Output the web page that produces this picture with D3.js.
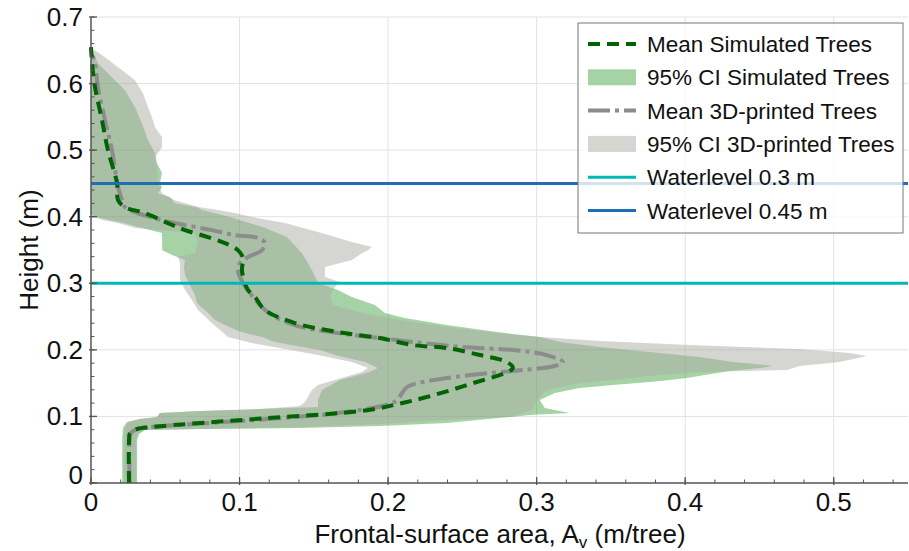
<!DOCTYPE html>
<html><head><meta charset="utf-8">
<script src="https://cdn.jsdelivr.net/npm/d3@7/dist/d3.min.js"></script>
<style>body{margin:0;background:#fff} text{font-family:"Liberation Sans",Arial,sans-serif}</style>
</head><body><svg id="c" width="909" height="551"></svg>
<script>
// ---- Data (height in m, frontal-surface area in m/tree) ----
const simMeanH = [0,.0646,.075,.0811,.0841,.0976,.1066,.1126,.1186,.1276,.1471,.1727,.1817,.1922,.2027,.2072,.2177,.2267,.2402,.2598,.2793,.2898,.3003,.3198,.3378,.3498,.3604,.3694,.3799,.3904,.4054,.4144,.4249,.4505,.5,.545,.5946,.6306,.6547];
const simMeanV = [.0256,.0256,.0262,.031,.041,.1191,.1756,.1945,.2066,.2234,.253,.284,.28,.2618,.2396,.2167,.1945,.1662,.1373,.1171,.1104,.1057,.1036,.1016,.1023,.0989,.0902,.0787,.0633,.0518,.0363,.0229,.0182,.0175,.0114,.0074,.0027,.0007,0];

const printMeanH = [0,.0646,.075,.0811,.0841,.096,.105,.1186,.1246,.1441,.1517,.1577,.1652,.1697,.1757,.1817,.1922,.1997,.2042,.2117,.2177,.2252,.2357,.2523,.2703,.2853,.3003,.3198,.3303,.3393,.3498,.3604,.3679,.3724,.3799,.3874,.3949,.4069,.4144,.4249,.4444,.5,.545,.5946,.6306,.6426];
const printMeanV = [.026,.026,.0268,.031,.041,.119,.166,.201,.206,.2127,.2234,.2396,.2685,.2907,.312,.3176,.3069,.284,.2503,.2167,.1945,.1662,.1393,.1218,.1124,.107,.1023,.0989,.1003,.1057,.1151,.1171,.1124,.0969,.0814,.0633,.0478,.0296,.0229,.0209,.0182,.0141,.0094,.0047,.0027,.0007];

const simLowH = [0,.0646,.0826,.0916,.0961,.0991,.1051,.1081,.1111,.1141,.1246,.1396,.1547,.1667,.1727,.1817,.1922,.1997,.2042,.2117,.2192,.2252,.2297,.2372,.2447,.2568,.2703,.2823,.2973,.3123,.3243,.3348,.3423,.3498,.3649,.3754,.3829,.3904,.3949,.3994,.4024,.6547];
const simLowV = [.021,.021,.0215,.0242,.033,.0444,.0464,.0734,.1137,.1528,.1528,.1555,.1676,.1878,.1931,.1844,.1642,.1541,.142,.1238,.1151,.1036,.0976,.0902,.0834,.0781,.0713,.07,.0666,.0633,.0626,.0633,.055,.048,.0478,.0478,.0343,.022,.012,.003,0,0];
const simHighH = [0,.0646,.0736,.0796,.0811,.0826,.0856,.0901,.0976,.1021,.1051,.1126,.1246,.1351,.1426,.1471,.1517,.1547,.1577,.1622,.1682,.1727,.1757,.1787,.1817,.1892,.1967,.2042,.2117,.2192,.2267,.2372,.2477,.2553,.2673,.2793,.2898,.3003,.3198,.3453,.3694,.3844,.3994,.4099,.4144,.4204,.4294,.4354,.4444,.4505,.4655,.4805,.4955,.515,.5405,.5646,.5901,.6096,.6306,.6547];
const simHighV = [.031,.031,.0323,.0363,.0734,.1406,.1945,.2396,.2745,.2954,.3223,.3055,.3022,.3122,.3291,.3513,.3762,.3896,.4011,.4132,.43,.4502,.459,.4469,.432,.4098,.3762,.3425,.3156,.3022,.2732,.2396,.2113,.1978,.1911,.1756,.1662,.1528,.1487,.142,.1319,.1157,.0935,.0747,.0713,.0565,.0532,.0451,.0478,.0464,.0478,.0444,.0431,.0384,.0343,.0296,.0229,.0141,.0047,0];

const printLowH = [0,.0646,.0826,.0916,.0961,.0991,.1051,.1081,.1111,.1156,.1216,.1396,.1471,.1547,.1667,.1727,.1817,.1922,.2012,.2102,.2192,.2402,.2598,.2748,.2898,.3048,.3318,.3393,.3453,.3649,.3754,.3829,.3904,.3949,.3994,.4054,.6502];
const printLowV = [.0222,.0222,.0229,.0249,.033,.0444,.0464,.0734,.1137,.1406,.144,.1487,.1528,.1642,.1824,.1864,.1756,.1528,.1306,.1083,.0922,.0814,.072,.068,.0633,.0599,.0599,.0585,.07,.072,.07,.03,.018,.008,.002,0,0];
const printHighH = [0,.0646,.0736,.0796,.0811,.0841,.0886,.0946,.1006,.1096,.1246,.1396,.1502,.1547,.1607,.1667,.1697,.1757,.1817,.1907,.1952,.2012,.2072,.2132,.2192,.2252,.2342,.2447,.2553,.2673,.2823,.2943,.3018,.3093,.3243,.3348,.3453,.3498,.3544,.3619,.3769,.3904,.3994,.4054,.4099,.4144,.4204,.4249,.4354,.4505,.47,.4895,.5045,.5195,.5345,.5495,.5646,.5856,.6051,.6201,.6396,.6502];
const printHighV = [.0303,.0303,.0316,.0363,.0734,.1406,.1945,.2396,.284,.2974,.3001,.3069,.3291,.3513,.3742,.4098,.4684,.4771,.504,.5222,.5108,.4771,.4031,.3425,.3022,.2732,.2396,.2079,.1824,.1629,.1608,.1642,.1676,.1575,.1575,.1756,.1824,.1864,.1891,.1756,.1528,.1306,.1083,.0969,.0855,.0734,.0633,.0565,.0478,.0451,.0444,.0431,.0478,.0478,.0431,.041,.0384,.035,.0296,.0209,.0094,.0027];

const waterLevels = [0.3, 0.45];
const xTicks = [0, 0.1, 0.2, 0.3, 0.4, 0.5];
const yTicks = [0, 0.1, 0.2, 0.3, 0.4, 0.5, 0.6, 0.7];
const legendLabels = ["Mean Simulated Trees","95% CI Simulated Trees","Mean 3D-printed Trees","95% CI 3D-printed Trees","Waterlevel 0.3 m","Waterlevel 0.45 m"];

// ---- Layout ----
const W = 909, H = 551;
const m = {l: 91, r: 1, t: 17, b: 68};
const svg = d3.select("#c");
const x = d3.scaleLinear().domain([0, 0.55]).range([m.l, W - m.r]);
const y = d3.scaleLinear().domain([0, 0.7]).range([H - m.b, m.t]);

const C = {
  simLine: "#006400", simFill: "rgba(0,128,0,0.35)",
  prLine: "#8c8c8c", prFill: "rgba(172,172,166,0.5)",
  wl03: "#00b8b8", wl045: "#1f6db5"
};

// grid
const g = svg.append("g");
g.selectAll(".gx").data(xTicks.filter(d => d > 0)).join("line")
  .attr("x1", d => x(d)).attr("x2", d => x(d)).attr("y1", y(0)).attr("y2", y(0.7))
  .attr("stroke", "#e2e2e2").attr("stroke-width", 1);
g.selectAll(".gy").data(yTicks.filter(d => d > 0)).join("line")
  .attr("x1", x(0)).attr("x2", x(0.55)).attr("y1", d => y(d)).attr("y2", d => y(d))
  .attr("stroke", "#e2e2e2").attr("stroke-width", 1);

// bands
function bandPts(lh, lv, hh, hv) {
  const pts = lh.map((h, i) => [lv[i], h]);
  for (let i = hh.length - 1; i >= 0; i--) pts.push([hv[i], hh[i]]);
  return pts;
}
const poly = d3.line().x(d => x(d[0])).y(d => y(d[1]));
svg.append("path").attr("d", poly(bandPts(simLowH, simLowV, simHighH, simHighV)) + "Z")
  .attr("fill", C.simFill).attr("stroke", "none");
svg.append("path").attr("d", poly(bandPts(printLowH, printLowV, printHighH, printHighV)) + "Z")
  .attr("fill", C.prFill).attr("stroke", "none");

// mean lines
const mline = d3.line().x(d => x(d[0])).y(d => y(d[1])).curve(d3.curveCatmullRom.alpha(0.5));
svg.append("path").attr("d", mline(printMeanH.map((h, i) => [printMeanV[i], h])))
  .attr("fill", "none").attr("stroke", C.prLine).attr("stroke-width", 4)
  .attr("stroke-dasharray", "22,5,4,5");
svg.append("path").attr("d", mline(simMeanH.map((h, i) => [simMeanV[i], h])))
  .attr("fill", "none").attr("stroke", C.simLine).attr("stroke-width", 4)
  .attr("stroke-dasharray", "12,7");

// water levels
svg.selectAll(".wl").data(waterLevels).join("line")
  .attr("x1", x(0)).attr("x2", x(0.55)).attr("y1", d => y(d)).attr("y2", d => y(d))
  .attr("stroke", (d, i) => i === 0 ? C.wl03 : C.wl045).attr("stroke-width", 3);

// axes
const axCol = "#555";
const xMinor = d3.range(0, 0.551, 0.02);
const yMinor = d3.range(0, 0.701, 0.02);
const ax = svg.append("g");
ax.append("line").attr("x1", x(0)).attr("x2", x(0.55)).attr("y1", y(0)).attr("y2", y(0)).attr("stroke", axCol).attr("stroke-width", 1.5);
ax.append("line").attr("x1", x(0)).attr("x2", x(0)).attr("y1", y(0)).attr("y2", y(0.7)).attr("stroke", axCol).attr("stroke-width", 1.5);
ax.selectAll(".xm").data(xMinor).join("line").attr("x1", d => x(d)).attr("x2", d => x(d)).attr("y1", y(0)).attr("y2", y(0) - 3.5).attr("stroke", axCol);
ax.selectAll(".ym").data(yMinor).join("line").attr("y1", d => y(d)).attr("y2", d => y(d)).attr("x1", x(0)).attr("x2", x(0) + 3.5).attr("stroke", axCol);
ax.selectAll(".xM").data(xTicks).join("line").attr("x1", d => x(d)).attr("x2", d => x(d)).attr("y1", y(0) + 2).attr("y2", y(0) - 6).attr("stroke", axCol).attr("stroke-width", 1.3);
ax.selectAll(".yM").data(yTicks).join("line").attr("y1", d => y(d)).attr("y2", d => y(d)).attr("x1", x(0) - 2).attr("x2", x(0) + 6).attr("stroke", axCol).attr("stroke-width", 1.3);

const fmt = d => d === 0 ? "0" : d3.format(".1f")(d);
ax.selectAll(".xl").data(xTicks).join("text")
  .attr("x", d => x(d)).attr("y", y(0) + 28).attr("text-anchor", "middle")
  .attr("font-size", 26).attr("fill", "#111").text(fmt);
ax.selectAll(".yl").data(yTicks).join("text")
  .attr("x", x(0) - 8).attr("y", d => y(d) + 9 - (d === 0 ? 8 : 0)).attr("text-anchor", "end")
  .attr("font-size", 26).attr("fill", "#111").text(fmt);

const xt = svg.append("text").attr("x", 500).attr("y", 543).attr("text-anchor", "middle")
  .attr("font-size", 26).attr("fill", "#111");
xt.append("tspan").text("Frontal-surface area, A");
xt.append("tspan").attr("font-size", 17).attr("dy", 5).text("v");
xt.append("tspan").attr("dy", -5).text(" (m/tree)");
svg.append("text").attr("transform", `translate(38,${y(0.35)}) rotate(-90)`)
  .attr("text-anchor", "middle").attr("font-size", 26).attr("fill", "#111").text("Height (m)");

// legend
const lg = svg.append("g");
lg.append("rect").attr("x", 578).attr("y", 23).attr("width", 325).attr("height", 210)
  .attr("fill", "rgba(255,255,255,0.8)").attr("stroke", "#777").attr("stroke-width", 1);
const rowY = i => 44 + i * 33.3;
const hx0 = 588, hx1 = 636;
const handles = [
  {type: "line", stroke: C.simLine, dash: "12,7"},
  {type: "rect", fill: C.simFill},
  {type: "line", stroke: C.prLine, dash: "22,5,4,5"},
  {type: "rect", fill: C.prFill},
  {type: "line", stroke: C.wl03, dash: null},
  {type: "line", stroke: C.wl045, dash: null}
];
handles.forEach((h, i) => {
  if (h.type === "line") {
    lg.append("line").attr("x1", hx0).attr("x2", hx1).attr("y1", rowY(i)).attr("y2", rowY(i))
      .attr("stroke", h.stroke).attr("stroke-width", i >= 4 ? 3 : 4)
      .attr("stroke-dasharray", h.dash);
  } else {
    lg.append("rect").attr("x", hx0).attr("y", rowY(i) - 8).attr("width", hx1 - hx0).attr("height", 16).attr("fill", h.fill);
  }
  lg.append("text").attr("x", 647).attr("y", rowY(i) + 8).attr("font-size", 22.5).attr("fill", "#111").text(legendLabels[i]);
});
</script></body></html>
